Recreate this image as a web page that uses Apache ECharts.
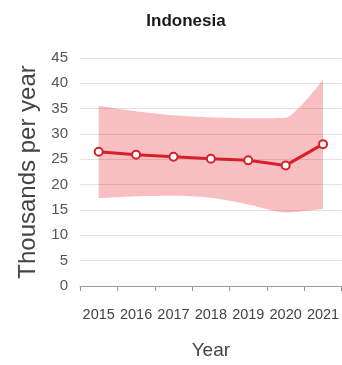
<!DOCTYPE html>
<html>
<head>
<meta charset="utf-8">
<script src="https://cdn.jsdelivr.net/npm/echarts@6/dist/echarts.min.js"></script>
<style>
  html, body { margin: 0; padding: 0; background: #fff; }
  #chart { width: 342px; height: 365px; }
</style>
</head>
<body>
<div id="chart"></div>
<script>
// Annual estimates for Indonesia with uncertainty range (thousands per year)
const years = ['2015', '2016', '2017', '2018', '2019', '2020', '2021'];
const estimate = [26.5, 25.9, 25.5, 25.1, 24.8, 23.8, 28.0];
const upperBound = [35.6, 34.5, 33.7, 33.3, 33.1, 33.2, 40.7];
const lowerBound = [17.3, 17.7, 17.8, 17.4, 16.1, 14.5, 15.2];
const yTicks = [0, 45, 5]; // min, max, step

const font = '"Liberation Sans", Arial, Helvetica, sans-serif';

// band drawn as a stacked area: invisible lower edge + range on top
const bandWidth = upperBound.map((u, i) => +(u - lowerBound[i]).toFixed(2));

const chart = echarts.init(document.getElementById('chart'), null, { renderer: 'canvas' });
chart.setOption({
  animation: false,
  backgroundColor: '#ffffff',
  title: {
    text: 'Indonesia',
    left: 181,
    textAlign: 'center',
    top: 8,
    textStyle: { fontFamily: font, fontWeight: 'bold', fontSize: 17, color: '#1a1a1a' }
  },
  grid: { left: 80, right: -2, top: 58, bottom: 73, containLabel: false },
  xAxis: {
    type: 'category',
    data: years,
    boundaryGap: true,
    name: 'Year',
    nameLocation: 'middle',
    nameGap: 55,
    nameTextStyle: { fontFamily: font, fontSize: 19, color: '#444' },
    axisLine: { show: true, lineStyle: { color: '#9a9a9a', width: 1 } },
    axisTick: { show: true, length: 5, lineStyle: { color: '#9a9a9a' } },
    axisLabel: { interval: 0, margin: 21, fontFamily: font, fontSize: 14.5, color: '#444' },
    splitLine: { show: false }
  },
  yAxis: {
    type: 'value',
    min: yTicks[0],
    max: yTicks[1],
    interval: yTicks[2],
    name: 'Thousands per year',
    nameLocation: 'middle',
    nameRotate: 90,
    nameGap: 31,
    nameTextStyle: { fontFamily: font, fontSize: 24, color: '#444' },
    axisLine: { show: false },
    axisTick: { show: false },
    axisLabel: { margin: 12, fontFamily: font, fontSize: 15, color: '#555' },
    splitLine: { show: true, lineStyle: { color: '#e2e2e2', width: 1 } }
  },
  series: [
    {
      name: 'lower',
      type: 'line',
      data: lowerBound,
      stack: 'range',
      smooth: 0.2,
      symbol: 'none',
      lineStyle: { opacity: 0 },
      silent: true
    },
    {
      name: 'range',
      type: 'line',
      data: bandWidth,
      stack: 'range',
      smooth: 0.2,
      symbol: 'none',
      lineStyle: { opacity: 0 },
      areaStyle: { color: 'rgba(229,36,48,0.42)' },
      silent: true
    },
    {
      name: 'estimate',
      type: 'line',
      data: estimate,
      symbol: 'circle',
      symbolSize: 8,
      lineStyle: { color: '#d6212b', width: 3 },
      itemStyle: { color: '#ffffff', borderColor: '#d6212b', borderWidth: 2 },
      z: 5
    }
  ]
});
</script>
</body>
</html>
